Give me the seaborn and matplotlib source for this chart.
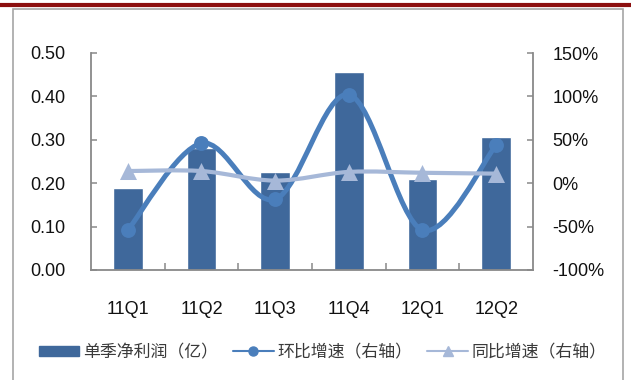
import numpy as np
import pandas as pd
import matplotlib
matplotlib.use("Agg")
import matplotlib.pyplot as plt
from matplotlib.path import Path
from matplotlib.patches import PathPatch, Rectangle, Patch
from matplotlib.lines import Line2D
from matplotlib.ticker import FuncFormatter, MultipleLocator
import seaborn as sns

# ---- data ----
quarters = ["11Q1", "11Q2", "11Q3", "11Q4", "12Q1", "12Q2"]
net_profit = [0.19, 0.28, 0.226, 0.456, 0.21, 0.306]          # 单季净利润（亿）
qoq_growth = [-54, 46, -18.5, 102, -54, 44]                   # 环比增速（%）
yoy_growth = [14, 14, 3, 13, 12, 11]                          # 同比增速（%）

series_names = ["单季净利润（亿）", "环比增速（右轴）", "同比增速（右轴）"]

BAR_C = "#3F689B"
QOQ_C = "#4A7EBB"
YOY_C = "#A6B8D8"
AXIS_C = "#898989"

sns.set_theme(style="white")
plt.rcParams["font.family"] = ["Liberation Sans", "DejaVu Sans"]

df = pd.DataFrame({"q": quarters, "profit": net_profit,
                   "qoq": qoq_growth, "yoy": yoy_growth, "x": range(len(quarters))})


def smooth_path(xs, ys):
    """Cubic Bezier path through the points (spreadsheet-style smoothed line)."""
    pts = np.column_stack([xs, ys]).astype(float)
    n = len(pts)
    verts = [pts[0]]
    codes = [Path.MOVETO]
    for i in range(n - 1):
        p_prev = pts[i - 1] if i > 0 else pts[i]
        p_next2 = pts[i + 2] if i + 2 < n else pts[i + 1]
        c1 = pts[i] + (pts[i + 1] - p_prev) / 6.0
        c2 = pts[i + 1] - (p_next2 - pts[i]) / 6.0
        verts += [c1, c2, pts[i + 1]]
        codes += [Path.CURVE4] * 3
    return Path(verts, codes)


fig = plt.figure(figsize=(6.31, 3.80), dpi=100)
ax = fig.add_axes([91 / 631, 1 - 270 / 380, 442 / 631, 217 / 380])

# bars: quarterly net profit
sns.barplot(data=df, x="q", y="profit", color=BAR_C, width=0.4,
            saturation=1, ax=ax, zorder=2)
ax.set_xlim(-0.5, len(quarters) - 0.5)
ax.set_ylim(0, 0.5)
ax.yaxis.set_major_locator(MultipleLocator(0.1))
ax.yaxis.set_major_formatter(FuncFormatter(lambda v, _: f"{v:.2f}"))
ax.set_xlabel("")
ax.set_ylabel("")

# right axis: growth rates
ax2 = ax.twinx()
ax2.set_ylim(-100, 150)
ax2.yaxis.set_major_locator(MultipleLocator(50))
ax2.yaxis.set_major_formatter(FuncFormatter(lambda v, _: f"{v:.0f}%"))

ax2.add_patch(PathPatch(smooth_path(df["x"], df["qoq"]), facecolor="none",
                        edgecolor=QOQ_C, lw=3.6, capstyle="round", zorder=3))
sns.scatterplot(data=df, x="x", y="qoq", ax=ax2, marker="o", s=115,
                color=QOQ_C, edgecolor=QOQ_C, linewidth=0, zorder=4)

ax2.add_patch(PathPatch(smooth_path(df["x"], df["yoy"]), facecolor="none",
                        edgecolor=YOY_C, lw=3.0, capstyle="round", zorder=5))
sns.scatterplot(data=df, x="x", y="yoy", ax=ax2, marker="^", s=150,
                color=YOY_C, edgecolor=YOY_C, linewidth=0, zorder=6)
ax2.set_xlim(-0.5, len(quarters) - 0.5)
ax2.set_xlabel("")
ax2.set_ylabel("")

# axes styling
for a in (ax, ax2):
    for s in a.spines.values():
        s.set_color(AXIS_C)
        s.set_linewidth(1.3)
    a.spines["top"].set_visible(False)
ax.spines["right"].set_visible(False)
ax2.spines["left"].set_visible(False)
ax2.spines["bottom"].set_visible(False)

ax.tick_params(axis="y", direction="in", length=4.5, width=1.1, color=AXIS_C,
               pad=18.5, labelsize=13, labelcolor="#111111", left=True)
ax2.tick_params(axis="y", direction="in", length=4.5, width=1.1, color=AXIS_C,
                pad=14, labelsize=13, labelcolor="#111111", right=True)
ax.set_xticks(range(len(quarters)))
ax.set_xticklabels(quarters)
ax.set_xticks(np.arange(0.5, len(quarters) - 0.5, 1.0), minor=True)
ax.tick_params(axis="x", which="major", length=0, pad=22, labelsize=13,
               labelcolor="#111111")
ax.tick_params(axis="x", which="minor", direction="in", length=5, width=1.1,
               color=AXIS_C, bottom=True)

# outer frame and top rule
fig.patches.append(Rectangle((13 / 631, -0.05), 610 / 631, 1.05 - 9 / 380,
                             transform=fig.transFigure, fill=False,
                             edgecolor="#A6A6A6", lw=1.2, zorder=0))
fig.add_artist(Line2D([0, 1], [1 - 4.5 / 380] * 2, transform=fig.transFigure,
                      color="#8C0F0F", lw=3.0))

# legend
handles = [
    Patch(facecolor=BAR_C, edgecolor=BAR_C),
    Line2D([], [], color=QOQ_C, lw=1.5, marker="o", markersize=6.5),
    Line2D([], [], color=YOY_C, lw=1.5, marker="^", markersize=6.5),
]
fig.legend(handles, series_names, loc="center", bbox_to_anchor=(0.511, 1 - 352 / 380),
           ncol=3, frameon=False, handlelength=2.4, handleheight=0.6,
           handletextpad=0.2, columnspacing=0.9,
           prop={"family": ["Noto Sans CJK SC", "DejaVu Sans"], "size": 12.2},
           labelcolor="#3a3a3a")

fig.savefig("out.png", dpi=100, facecolor="white")
